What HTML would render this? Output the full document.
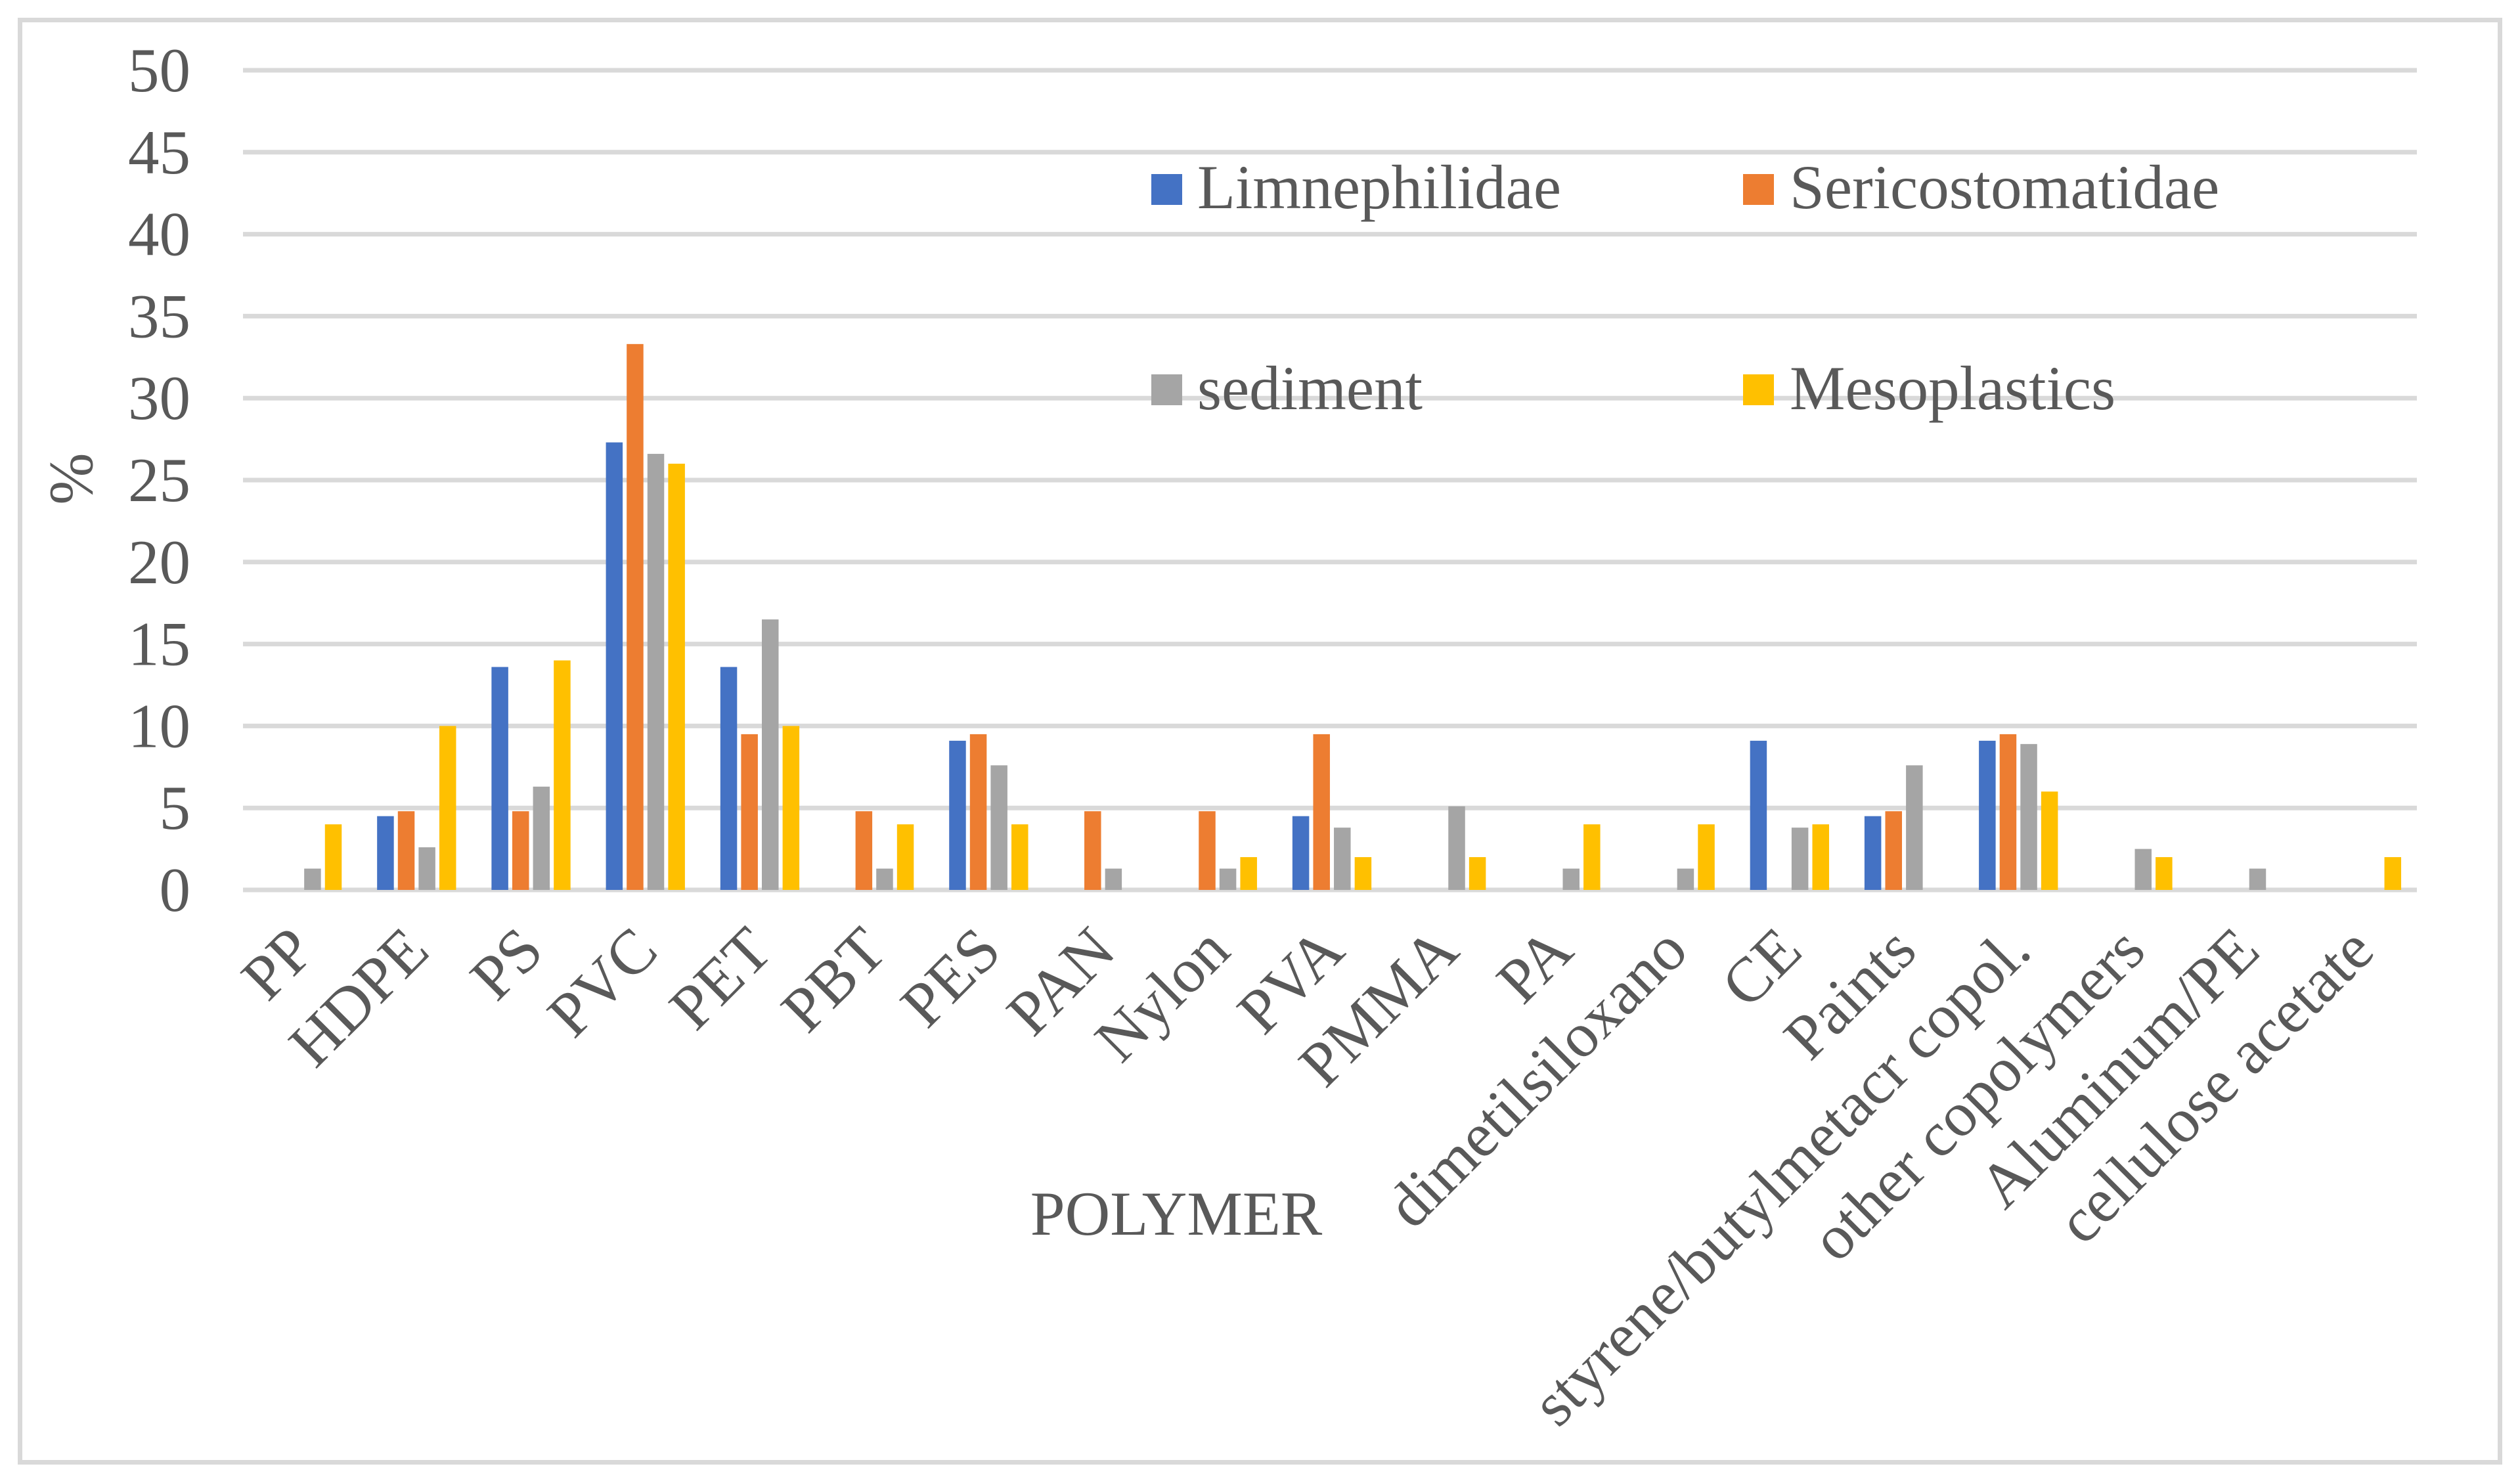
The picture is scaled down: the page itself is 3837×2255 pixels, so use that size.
<!DOCTYPE html>
<html><head><meta charset="utf-8"><style>
html,body{margin:0;padding:0;background:#fff;}
svg{display:block;font-family:"Liberation Serif","Times New Roman",serif;}
</style></head><body>
<svg id="chart" width="3837" height="2255" viewBox="0 0 3837 2255" xmlns="http://www.w3.org/2000/svg">
<rect x="30.5" y="30.5" width="3776" height="2196" fill="#fff" stroke="#d9d9d9" stroke-width="7"/>
<g id="grid"></g>
<g id="bars"></g>
<g id="ylabels"></g>
<g id="xlabels"></g>
<text x="0" y="0" transform="translate(140,729) rotate(-90)" font-size="95" fill="#595959" text-anchor="middle">%</text>
<text x="1791" y="1880" font-size="95" fill="#595959" text-anchor="middle">POLYMER</text>
<g>
<g><rect x="1753" y="265" width="47" height="47" fill="#4472c4"/><text x="1823" y="317" font-size="95" fill="#595959">Limnephilidae</text></g>
<g><rect x="2654" y="265" width="47" height="47" fill="#ed7d31"/><text x="2725" y="317" font-size="95" fill="#595959">Sericostomatidae</text></g>
<g><rect x="1753" y="570" width="47" height="47" fill="#a5a5a5"/><text x="1823" y="623" font-size="95" fill="#595959">sediment</text></g>
<g><rect x="2654" y="570" width="47" height="47" fill="#ffc000"/><text x="2725" y="623" font-size="95" fill="#595959">Mesoplastics</text></g>
</g>
</svg>
<script>
const categories = ["PP","HDPE","PS","PVC","PET","PBT","PES","PAN","Nylon","PVA","PMMA","PA","dimetilsiloxano","CE","Paints","styrene/butylmetacr copol.","other copolymers","Aluminum/PE","cellulose acetate"];
const limnephilidae = [0,4.5,13.6,27.3,13.6,0,9.1,0,0,4.5,0,0,0,9.1,4.5,9.1,0,0,0];
const sericostomatidae = [0,4.8,4.8,33.3,9.5,4.8,9.5,4.8,4.8,9.5,0,0,0,0,4.8,9.5,0,0,0];
const sediment = [1.3,2.6,6.3,26.6,16.5,1.3,7.6,1.3,1.3,3.8,5.1,1.3,1.3,3.8,7.6,8.9,2.5,1.3,0];
const mesoplastics = [4,10,14,26,10,4,4,0,2,2,2,4,4,4,0,6,2,0,2];
const yTicks = [0,5,10,15,20,25,30,35,40,45,50];
</script>
<script>
const NS="http://www.w3.org/2000/svg";
const plotL=370, plotR=3680, y0=1355, y50=107;
const N=categories.length;
const band=(plotR-plotL)/N;
function yS(v){return y0-(v/50)*(y0-y50);}
function xC(i){return plotL+(i+0.5)*band+3;}
const grid=document.getElementById('grid');
const yl=document.getElementById('ylabels');
yTicks.forEach(t=>{
  const l=document.createElementNS(NS,'line');
  
  
  l.setAttribute('x1',plotL);l.setAttribute('x2',plotR);
  l.setAttribute('y1',yS(t));l.setAttribute('y2',yS(t));
  l.setAttribute('stroke','#d9d9d9');l.setAttribute('stroke-width','7');
  grid.appendChild(l);
  const tx=document.createElementNS(NS,'text');
  
  
  tx.setAttribute('x',290);tx.setAttribute('y',yS(t)+32);
  tx.setAttribute('text-anchor','end');tx.setAttribute('font-size','95');tx.setAttribute('fill','#595959');
  tx.textContent=t;
  yl.appendChild(tx);
});
const series=[[limnephilidae,'#4472c4','limnephilidae'],[sericostomatidae,'#ed7d31','sericostomatidae'],[sediment,'#a5a5a5','sediment'],[mesoplastics,'#ffc000','mesoplastics']];
const bars=document.getElementById('bars');
const bw=25.5, step=31.6;
series.forEach((s,si)=>{
  s[0].forEach((v,i)=>{
    if(!v) return;
    const r=document.createElementNS(NS,'rect');
    
    
    const cx=xC(i)+(si-1.5)*step;
    r.setAttribute('x',cx-bw/2);r.setAttribute('width',bw);
    r.setAttribute('y',yS(v));r.setAttribute('height',y0-yS(v));
    r.setAttribute('fill',s[1]);
    bars.appendChild(r);
  });
});
const xl=document.getElementById('xlabels');
categories.forEach((c,i)=>{
  const tx=document.createElementNS(NS,'text');
  
  
  const ax=xC(i)+23, ay=1452;
  tx.setAttribute('transform','translate('+ax+','+ay+') rotate(-45)');
  tx.setAttribute('text-anchor','end');tx.setAttribute('font-size','96');tx.setAttribute('fill','#595959');
  tx.textContent=c;
  xl.appendChild(tx);
});
</script>
</body></html>
